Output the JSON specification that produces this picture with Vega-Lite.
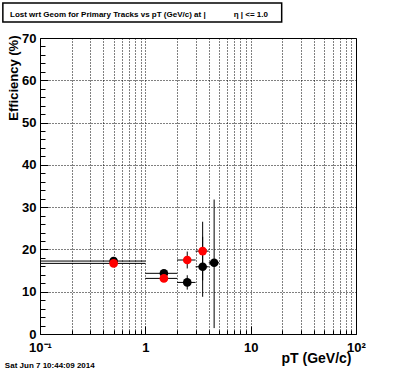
{
  "$schema": "https://vega.github.io/schema/vega-lite/v6.json",
  "width": 316,
  "height": 296,
  "autosize": {"type": "none"},
  "padding": {"left": 40, "top": 38, "right": 40, "bottom": 38},
  "background": "white",
  "config": {
    "font": "Liberation Sans",
    "view": {"stroke": "black", "strokeWidth": 1},
    "axis": {
      "domain": false,
      "labelColor": "black",
      "labelFont": "Liberation Sans",
      "labelFontSize": 13,
      "labelFontWeight": "bold",
      "labelFlush": false,
      "labelOverlap": false,
      "tickColor": "black",
      "gridColor": "black",
      "gridDash": [1, 2],
      "titleColor": "black",
      "titleFont": "Liberation Sans",
      "titleFontWeight": "bold"
    }
  },
  "title": {
    "text": "Lost wrt Geom for Primary Tracks vs pT (GeV/c) at |\u2003\u2003\u2003\u2002η | <= 1.0",
    "anchor": "start",
    "frame": "group",
    "font": "Liberation Sans",
    "fontSize": 8,
    "fontWeight": "bold",
    "color": "black",
    "dx": -30,
    "dy": 17,
    "offset": 0
  },
  "resolve": {"axis": {"x": "independent", "y": "independent"}},
  "datasets": {
    "eff": [
      {"pt": 0.5, "lo": 0.1, "hi": 1, "eff": 17.25, "ylo": 16.95, "yhi": 17.55, "series": "black"},
      {"pt": 1.5, "lo": 1, "hi": 2, "eff": 14.35, "ylo": 13.85, "yhi": 14.85, "series": "black"},
      {"pt": 2.5, "lo": 2, "hi": 3, "eff": 12.2, "ylo": 10.5, "yhi": 13.9, "series": "black"},
      {"pt": 3.5, "lo": 3, "hi": 4, "eff": 15.9, "ylo": 8.8, "yhi": 23.0, "series": "black"},
      {"pt": 4.5, "lo": 4, "hi": 5, "eff": 16.85, "ylo": 1.4, "yhi": 31.8, "series": "black"},
      {"pt": 0.5, "lo": 0.1, "hi": 1, "eff": 16.7, "ylo": 16.4, "yhi": 17.0, "series": "red"},
      {"pt": 1.5, "lo": 1, "hi": 2, "eff": 13.15, "ylo": 12.65, "yhi": 13.65, "series": "red"},
      {"pt": 2.5, "lo": 2, "hi": 3, "eff": 17.5, "ylo": 15.5, "yhi": 19.5, "series": "red"},
      {"pt": 3.5, "lo": 3, "hi": 4, "eff": 19.6, "ylo": 12.7, "yhi": 26.55, "series": "red"}
    ]
  },
  "layer": [
    {
      "data": {"name": "eff"},
      "mark": {"type": "rule", "color": "black", "strokeWidth": 1},
      "encoding": {
        "x": {
          "field": "lo", "type": "quantitative",
          "scale": {"type": "log", "domain": [0.1, 100]},
          "axis": {
            "title": "pT (GeV/c)",
            "titleFontSize": 14,
            "titleX": 311,
            "titleY": 28,
            "titleAlign": "right",
            "titleBaseline": "alphabetic",
            "values": [0.1, 1, 10, 100],
            "labelExpr": "datum.value == 0.1 ? '10⁻¹' : datum.value == 1 ? '1' : datum.value == 10 ? '10' : '10²'",
            "grid": false,
            "tickSize": -8,
            "labelPadding": 15
          }
        },
        "x2": {"field": "hi"},
        "y": {
          "field": "eff", "type": "quantitative",
          "scale": {"domain": [0, 70]},
          "axis": {
            "title": "Efficiency (%)",
            "titleFontSize": 13,
            "titleX": -23,
            "titleY": -3,
            "titleAngle": -90,
            "titleAlign": "right",
            "titleBaseline": "alphabetic",
            "values": [0, 10, 20, 30, 40, 50, 60, 70],
            "grid": true,
            "tickSize": -8,
            "labelPadding": 12
          }
        }
      }
    },
    {
      "data": {"name": "eff"},
      "mark": {"type": "rule", "color": "black", "strokeWidth": 1},
      "encoding": {
        "x": {
          "field": "pt", "type": "quantitative",
          "axis": {
            "orient": "bottom",
            "title": null,
            "labels": false,
            "values": [0.2, 0.3, 0.4, 0.5, 0.6, 0.7, 0.8, 0.9, 1, 2, 3, 4, 5, 6, 7, 8, 9, 10, 20, 30, 40, 50, 60, 70, 80, 90],
            "grid": true,
            "tickSize": -4
          }
        },
        "y": {
          "field": "ylo", "type": "quantitative",
          "axis": {
            "orient": "left",
            "title": null,
            "labels": false,
            "grid": false,
            "values": [2, 4, 6, 8, 12, 14, 16, 18, 22, 24, 26, 28, 32, 34, 36, 38, 42, 44, 46, 48, 52, 54, 56, 58, 62, 64, 66, 68],
            "tickSize": -5
          }
        },
        "y2": {"field": "yhi"}
      }
    },
    {
      "data": {"name": "eff"},
      "mark": {"type": "point", "shape": "circle", "filled": true, "size": 75, "opacity": 1},
      "encoding": {
        "x": {"field": "pt", "type": "quantitative", "axis": null},
        "y": {"field": "eff", "type": "quantitative", "axis": null},
        "color": {"field": "series", "type": "nominal", "scale": {"domain": ["black", "red"], "range": ["#000000", "#ff0000"]}, "legend": null}
      }
    },
    {
      "data": {"values": [{"box": "title"}]},
      "mark": {"type": "rect", "fill": null, "stroke": "black", "strokeWidth": 1.5},
      "encoding": {
        "x": {"datum": 0.0444, "type": "quantitative", "axis": null},
        "x2": {"datum": 19.7},
        "y": {"datum": 78.25, "type": "quantitative", "axis": null},
        "y2": {"datum": 73.76}
      }
    },
    {
      "data": {"values": [{"stamp": "Sat Jun  7 10:44:09 2014"}]},
      "mark": {"type": "text", "align": "left", "baseline": "alphabetic", "fontSize": 8, "fontWeight": "bold", "font": "Liberation Sans", "color": "black"},
      "encoding": {
        "x": {"datum": 0.0464, "type": "quantitative", "axis": null},
        "y": {"datum": -8.0, "type": "quantitative", "axis": null},
        "text": {"field": "stamp"}
      }
    }
  ]
}
